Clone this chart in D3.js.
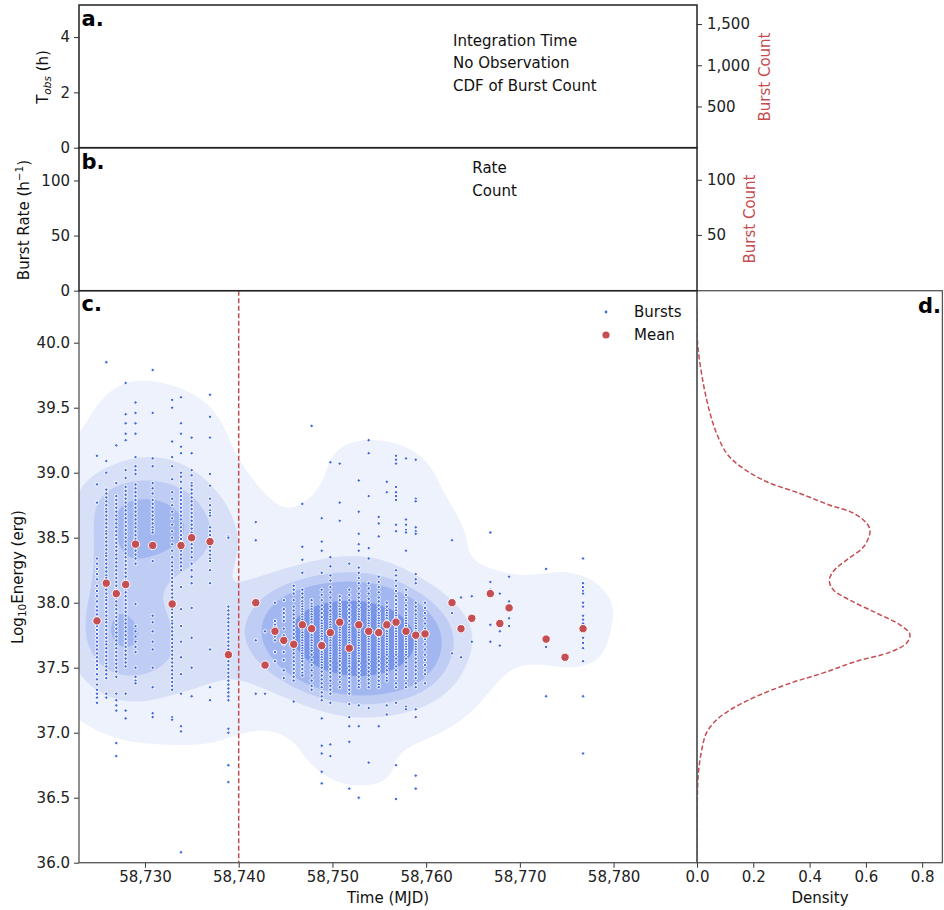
<!DOCTYPE html>
<html>
<head>
<meta charset="utf-8">
<script src="https://cdn.jsdelivr.net/npm/d3@7"></script>
<style>
  body { margin: 0; background: #fff; }
  svg text { font-family: "DejaVu Sans", sans-serif; }
</style>
</head>
<body>
<svg id="chart" width="944" height="910"></svg>
<script>
// ---- data ----
const burstDays = [58724.88, 58725.87, 58726.94, 58727.94, 58728.99, 58730.82, 58732.90, 58733.84, 58734.98, 58736.94,
  58738.90, 58741.82, 58742.81, 58743.87, 58744.81, 58745.87, 58746.79, 58747.78, 58748.86, 58749.78,
  58750.78, 58751.80, 58752.81, 58753.87, 58754.94, 58755.80, 58756.79, 58757.85, 58758.89, 58759.88,
  58762.76, 58763.72, 58764.87, 58766.85, 58767.86, 58768.85, 58772.80, 58774.82, 58776.74]

// log10 energy of each burst, one list per observing day
const burstEnergy = [
  [39.13, 38.91, 38.77, 38.34, 38.30, 38.26, 38.22, 38.18, 38.13, 38.09, 38.05, 38.01, 37.97, 37.94, 37.91, 37.88, 37.85, 37.82, 37.79, 37.76, 37.73, 37.70, 37.67, 37.64, 37.61, 37.58, 37.55, 37.52, 37.49, 37.45, 37.41, 37.37, 37.33, 37.30, 37.27, 37.23],
  [39.85, 39.09, 39.00, 38.87, 38.84, 38.81, 38.78, 38.75, 38.72, 38.70, 38.67, 38.64, 38.61, 38.58, 38.55, 38.53, 38.50, 38.47, 38.44, 38.41, 38.38, 38.36, 38.33, 38.30, 38.27, 38.24, 38.21, 38.19, 38.16, 38.13, 38.10, 38.07, 38.04, 38.02, 37.99, 37.96, 37.93, 37.90, 37.87, 37.85, 37.82, 37.79, 37.76, 37.73, 37.70, 37.68, 37.65, 37.62, 37.59, 37.56, 37.53, 37.51, 37.48, 37.45, 37.42, 37.30, 37.27],
  [39.21, 38.92, 38.82, 38.79, 38.76, 38.73, 38.70, 38.67, 38.64, 38.61, 38.58, 38.55, 38.52, 38.49, 38.46, 38.43, 38.40, 38.37, 38.34, 38.31, 38.28, 38.25, 38.22, 38.19, 38.16, 38.13, 38.10, 38.07, 38.04, 38.01, 37.98, 37.95, 37.92, 37.89, 37.86, 37.83, 37.80, 37.77, 37.74, 37.71, 37.68, 37.65, 37.62, 37.59, 37.56, 37.53, 37.50, 37.47, 37.43, 37.30, 37.25, 37.21, 37.17, 36.92, 36.82],
  [39.69, 39.45, 39.38, 39.30, 39.25, 39.02, 38.96, 38.89, 38.86, 38.83, 38.80, 38.77, 38.74, 38.71, 38.68, 38.65, 38.62, 38.59, 38.56, 38.53, 38.50, 38.47, 38.44, 38.41, 38.38, 38.35, 38.32, 38.29, 38.26, 38.23, 38.20, 38.17, 38.14, 38.11, 38.08, 38.05, 38.02, 37.99, 37.96, 37.93, 37.90, 37.87, 37.84, 37.81, 37.78, 37.75, 37.72, 37.69, 37.66, 37.63, 37.60, 37.57, 37.54, 37.51, 37.30, 37.17, 37.11],
  [39.54, 39.46, 39.38, 39.30, 39.12, 39.05, 39.02, 38.99, 38.91, 38.88, 38.85, 38.82, 38.79, 38.76, 38.73, 38.70, 38.67, 38.64, 38.61, 38.58, 38.55, 38.52, 38.49, 38.46, 38.43, 38.40, 38.37, 38.34, 38.30, 37.99, 37.82, 37.78, 37.74, 37.70, 37.66, 37.62, 37.50, 37.43, 37.40, 37.38],
  [39.79, 39.46, 39.11, 39.05, 38.92, 38.88, 38.84, 38.79, 38.76, 38.73, 38.70, 38.67, 38.64, 38.61, 38.58, 38.56, 38.54, 38.32, 37.90, 37.85, 37.78, 37.70, 37.64, 37.50, 37.35, 37.15, 37.12],
  [39.56, 39.50, 39.24, 39.12, 39.05, 38.95, 38.85, 38.80, 38.75, 38.70, 38.65, 38.60, 38.55, 38.50, 38.45, 38.40, 38.35, 38.31, 38.28, 38.25, 38.22, 38.19, 38.16, 38.13, 38.10, 38.07, 38.04, 38.01, 37.98, 37.95, 37.92, 37.89, 37.86, 37.84, 37.81, 37.78, 37.75, 37.72, 37.69, 37.66, 37.63, 37.60, 37.57, 37.54, 37.51, 37.48, 37.45, 37.42, 37.39, 37.36, 37.33, 37.12, 37.10],
  [39.58, 39.38, 39.30, 39.20, 39.15, 39.00, 38.97, 38.93, 38.88, 38.85, 38.82, 38.79, 38.76, 38.73, 38.70, 38.67, 38.64, 38.61, 38.58, 38.55, 38.52, 38.49, 38.46, 38.43, 38.40, 38.37, 38.34, 38.31, 38.28, 38.25, 38.12, 37.95, 37.82, 37.70, 37.58, 37.45, 37.30, 37.05, 37.01, 36.08],
  [39.27, 39.15, 39.02, 38.98, 38.92, 38.90, 38.87, 38.84, 38.81, 38.78, 38.75, 38.72, 38.69, 38.66, 38.63, 38.60, 38.57, 38.54, 38.51, 38.48, 38.45, 38.42, 38.39, 38.35, 38.30, 38.25, 38.20, 38.15, 37.96, 37.73, 37.50, 37.28],
  [39.60, 39.43, 39.27, 38.99, 38.90, 38.80, 38.75, 38.71, 38.69, 38.67, 38.58, 38.55, 38.52, 38.49, 38.46, 38.43, 38.40, 38.37, 38.34, 38.32, 38.25, 38.15, 37.64, 37.35, 37.25],
  [38.51, 38.50, 37.97, 37.94, 37.91, 37.88, 37.85, 37.82, 37.79, 37.76, 37.73, 37.70, 37.67, 37.64, 37.61, 37.58, 37.55, 37.52, 37.49, 37.46, 37.43, 37.40, 37.37, 37.34, 37.31, 37.28, 37.25, 37.03, 37.00, 36.75, 36.62],
  [38.62, 38.48, 37.71, 37.30],
  [37.78, 37.52, 37.30],
  [38.00, 37.86, 37.83, 37.81, 37.78, 37.74, 37.71, 37.62, 37.55],
  [38.02, 37.95, 37.92, 37.89, 37.86, 37.80, 37.75, 37.68, 37.62, 37.56, 37.48, 37.42],
  [38.13, 38.10, 38.07, 38.02, 37.97, 37.94, 37.91, 37.88, 37.85, 37.82, 37.79, 37.76, 37.73, 37.70, 37.67, 37.64, 37.61, 37.58, 37.55, 37.52, 37.49, 37.46, 37.43, 37.40, 37.24],
  [38.76, 38.43, 38.33, 38.23, 38.10, 38.07, 38.04, 38.01, 37.99, 37.97, 37.95, 37.93, 37.91, 37.89, 37.87, 37.85, 37.83, 37.81, 37.79, 37.77, 37.75, 37.73, 37.71, 37.69, 37.67, 37.65, 37.63, 37.61, 37.59, 37.57, 37.55, 37.52, 37.49, 37.46, 37.44],
  [39.36, 38.02, 37.99, 37.97, 37.95, 37.93, 37.91, 37.89, 37.87, 37.85, 37.83, 37.81, 37.79, 37.77, 37.75, 37.73, 37.71, 37.69, 37.67, 37.65, 37.63, 37.60, 37.56, 37.52, 37.48, 37.44, 37.40, 37.36, 37.33],
  [38.65, 38.47, 38.40, 38.23, 38.10, 38.06, 38.02, 37.98, 37.95, 37.92, 37.89, 37.86, 37.84, 37.82, 37.80, 37.78, 37.76, 37.74, 37.72, 37.70, 37.68, 37.66, 37.64, 37.62, 37.60, 37.58, 37.56, 37.54, 37.52, 37.50, 37.47, 37.44, 37.41, 37.38, 37.35, 37.31, 37.28, 37.25, 37.11, 36.90, 36.84, 36.70, 36.61],
  [39.08, 38.35, 38.28, 38.21, 38.17, 38.12, 38.08, 38.04, 38.00, 37.97, 37.94, 37.91, 37.89, 37.87, 37.85, 37.83, 37.81, 37.79, 37.77, 37.75, 37.73, 37.71, 37.69, 37.67, 37.65, 37.63, 37.61, 37.59, 37.57, 37.55, 37.52, 37.49, 37.46, 37.43, 37.40, 37.36, 37.33, 37.30, 37.23, 36.91, 36.82],
  [39.07, 38.77, 38.63, 38.05, 38.02, 37.99, 37.97, 37.95, 37.93, 37.91, 37.89, 37.87, 37.85, 37.83, 37.81, 37.79, 37.77, 37.75, 37.73, 37.71, 37.69, 37.67, 37.65, 37.63, 37.61, 37.59, 37.57, 37.55, 37.52, 37.49, 37.46, 37.43, 37.39, 37.35],
  [38.30, 38.10, 38.06, 38.02, 37.98, 37.95, 37.92, 37.89, 37.86, 37.83, 37.81, 37.79, 37.77, 37.75, 37.73, 37.71, 37.69, 37.67, 37.65, 37.63, 37.61, 37.59, 37.57, 37.55, 37.53, 37.51, 37.48, 37.45, 37.42, 37.39, 37.36, 37.33, 37.30, 37.22, 37.12, 37.05, 36.93, 36.57],
  [38.94, 38.70, 38.53, 38.45, 38.40, 38.27, 38.23, 38.19, 38.15, 38.11, 38.07, 38.04, 38.01, 37.98, 37.95, 37.93, 37.91, 37.89, 37.87, 37.85, 37.83, 37.81, 37.79, 37.77, 37.75, 37.73, 37.71, 37.69, 37.67, 37.65, 37.63, 37.61, 37.59, 37.57, 37.55, 37.52, 37.49, 37.46, 37.43, 37.40, 37.37, 37.35, 37.21, 37.05, 36.50],
  [39.25, 39.15, 38.82, 38.42, 38.34, 38.15, 38.11, 38.07, 38.03, 38.00, 37.97, 37.94, 37.92, 37.90, 37.88, 37.86, 37.84, 37.82, 37.80, 37.78, 37.76, 37.74, 37.72, 37.70, 37.68, 37.66, 37.64, 37.62, 37.60, 37.58, 37.56, 37.53, 37.50, 37.47, 37.44, 37.41, 37.38, 37.35, 37.19, 36.77],
  [38.66, 38.61, 38.51, 38.20, 38.16, 38.12, 38.08, 38.04, 38.01, 37.98, 37.95, 37.92, 37.90, 37.88, 37.86, 37.84, 37.82, 37.80, 37.78, 37.76, 37.74, 37.72, 37.70, 37.68, 37.66, 37.64, 37.62, 37.60, 37.58, 37.55, 37.52, 37.49, 37.46, 37.43, 37.40, 37.37, 37.35, 37.05],
  [38.93, 38.85, 38.00, 37.97, 37.94, 37.92, 37.90, 37.88, 37.86, 37.84, 37.82, 37.80, 37.78, 37.76, 37.74, 37.72, 37.70, 37.68, 37.66, 37.64, 37.62, 37.60, 37.57, 37.54, 37.51, 37.48, 37.45, 37.42, 37.40, 37.21, 37.14],
  [39.13, 39.10, 39.07, 38.89, 38.85, 38.82, 38.79, 38.60, 38.55, 38.25, 38.21, 38.17, 38.13, 38.09, 38.05, 38.02, 37.99, 37.96, 37.94, 37.92, 37.90, 37.88, 37.86, 37.84, 37.82, 37.80, 37.78, 37.76, 37.74, 37.72, 37.70, 37.68, 37.66, 37.64, 37.62, 37.60, 37.57, 37.54, 37.51, 37.48, 37.45, 37.42, 37.38, 37.35, 37.23, 36.75, 36.49],
  [39.11, 38.64, 38.60, 38.56, 38.54, 38.40, 38.10, 38.06, 38.02, 37.98, 37.95, 37.92, 37.90, 37.88, 37.86, 37.84, 37.82, 37.80, 37.78, 37.76, 37.74, 37.72, 37.70, 37.68, 37.66, 37.64, 37.62, 37.60, 37.57, 37.54, 37.51, 37.48, 37.45, 37.42, 37.38, 37.35, 37.20, 37.18],
  [39.10, 38.80, 38.78, 38.58, 38.55, 38.53, 38.22, 38.18, 38.15, 38.00, 37.97, 37.94, 37.91, 37.88, 37.86, 37.84, 37.82, 37.80, 37.78, 37.76, 37.74, 37.72, 37.70, 37.68, 37.66, 37.64, 37.62, 37.60, 37.57, 37.54, 37.51, 37.48, 37.45, 37.42, 37.38, 37.35, 37.18, 37.12, 36.67, 36.57],
  [38.00, 37.96, 37.92, 37.88, 37.84, 37.80, 37.76, 37.72, 37.68, 37.64, 37.60, 37.56, 37.52, 37.48, 37.45, 37.38],
  [38.48, 37.92, 37.61],
  [38.04, 37.77, 37.58],
  [38.05, 37.88, 37.70],
  [38.54, 38.16, 38.10, 37.83, 37.70],
  [38.07, 37.78, 37.67],
  [38.20, 38.01, 37.88, 37.82],
  [38.26, 37.66, 37.28],
  [37.60, 37.56],
  [38.34, 38.15, 38.12, 38.09, 38.07, 38.00, 37.97, 37.90, 37.87, 37.84, 37.73, 37.69, 37.65, 37.55, 37.28, 36.84]
]

// daily mean energy (red markers)
const meanEnergy = [37.86, 38.15, 38.07, 38.14, 38.45, 38.44, 37.99, 38.44, 38.50, 38.47, 37.60, 38.00, 37.52, 37.78, 37.71,
  37.68, 37.83, 37.80, 37.67, 37.77, 37.85, 37.65, 37.83, 37.78, 37.77, 37.83, 37.85, 37.78, 37.75, 37.76,
  38.00, 37.80, 37.88, 38.07, 37.84, 37.96, 37.72, 37.58, 37.80]

// marginal density of energy (panel d)
const densEnergy = [36.0, 36.48, 36.69, 36.87, 37.0, 37.10, 37.19, 37.28, 37.38, 37.46, 37.55, 37.62, 37.69, 37.76, 37.83,
  37.92, 38.02, 38.10, 38.17, 38.24, 38.33, 38.43, 38.55, 38.61, 38.69, 38.75, 38.84, 38.93, 39.05, 39.15,
  39.30, 39.46, 39.69, 40.0, 40.27]
const densValue = [0.0, 0.001, 0.005, 0.017, 0.034, 0.070, 0.129, 0.212, 0.330, 0.449, 0.567, 0.686, 0.745, 0.756, 0.721,
  0.638, 0.543, 0.484, 0.470, 0.484, 0.532, 0.592, 0.615, 0.603, 0.555, 0.472, 0.366, 0.248, 0.153, 0.105,
  0.070, 0.046, 0.022, 0.002, 0.0]

const burstOnset = 58740
const kdeQuantiles = [0.05, 0.24, 0.43, 0.62, 0.81]
const kdeColors = ['#eef2fc', '#d8e0f8', '#bfcdf4', '#a2b6ef', '#7895e8']
const legendA = ['Integration Time', 'No Observation', 'CDF of Burst Count']
const legendB = ['Rate', 'Count']

// ---- layout ----
const svg = d3.select('#chart')
const L = 79, R = 697, RD = 943
const TA = 5, TB = 147.7, TC = 290.7, BC = 862.7
const red = '#c44e52', blue = '#4169e1'

const xC = d3.scaleLinear().domain([58722.96, 58788.9]).range([L, R])
const yC = d3.scaleLinear().domain([36, 40.4]).range([BC, TC])
const yA = d3.scaleLinear().domain([0, 5.16]).range([TB, TA])
const yAR = d3.scaleLinear().domain([0, 1731]).range([TB, TA])
const yB = d3.scaleLinear().domain([0, 129.7]).range([TC, TB])
const yBR = d3.scaleLinear().domain([0, 129.1]).range([290, TB])
const xD = d3.scaleLinear().domain([0, 0.874]).range([R, RD])

function styleAxis(g){
    g.attr('font-family', 'DejaVu Sans').attr('font-size', 15)
    g.select('.domain').remove()
    g.selectAll('.tick line').attr('stroke', '#333').attr('stroke-width', 1)
    g.selectAll('.tick text').attr('fill', '#222')
}

// clip paths
const defs = svg.append('defs')
defs.append('clipPath').attr('id', 'clipC').append('rect')
    .attr('x', L).attr('y', TC).attr('width', R - L).attr('height', BC - TC)
defs.append('clipPath').attr('id', 'clipD').append('rect')
    .attr('x', R).attr('y', TC).attr('width', RD - R).attr('height', BC - TC)

// ---- panel c: KDE contours from the bursts ----
let pts = []
burstDays.forEach((d, i) => burstEnergy[i].forEach(e => pts.push([d, e])))
const n = pts.length
const mx = d3.mean(pts, p => p[0]), my = d3.mean(pts, p => p[1])
let sxx = 0, syy = 0, sxy = 0
pts.forEach(p => { let dx = p[0] - mx, dy = p[1] - my; sxx += dx*dx; syy += dy*dy; sxy += dx*dy })
sxx /= n - 1; syy /= n - 1; sxy /= n - 1
const bwAdjust = 1.0
const fac2 = Math.pow(Math.pow(n, -1/6) * bwAdjust, 2)
const ca = sxx*fac2, cb = sxy*fac2, cc = syy*fac2, det = ca*cc - cb*cb
const ia = cc/det, ib = -cb/det, ic = ca/det

const nx = 180, ny = 140, gx0 = 58712, gx1 = 58800, gy0 = 35.6, gy1 = 41.0
const dxg = (gx1 - gx0)/(nx - 1), dyg = (gy1 - gy0)/(ny - 1)
const grid = new Float64Array(nx*ny)
for (let j = 0; j < ny; j++){
    let y = gy0 + j*dyg
    for (let i = 0; i < nx; i++){
        let x = gx0 + i*dxg, s = 0
        for (let k = 0; k < n; k++){
            let dx = x - pts[k][0], dy = y - pts[k][1]
            let q = ia*dx*dx + 2*ib*dx*dy + ic*dy*dy
            if (q < 40) s += Math.exp(-0.5*q)
        }
        grid[j*nx + i] = s
    }
}
// iso-proportion levels
const sorted = Array.from(grid).sort((a, b) => b - a)
const total = d3.sum(sorted)
let cum = 0
const cums = sorted.map(v => (cum += v)/total)
const thresholds = kdeQuantiles.map(q => sorted[Math.min(d3.bisectLeft(cums, 1 - q), sorted.length - 1)])

const contours = d3.contours().size([nx, ny]).thresholds(thresholds)(grid)
const proj = d3.geoTransform({point: function(x, y){
    this.stream.point(xC(gx0 + (x - 0.5)*dxg), yC(gy0 + (y - 0.5)*dyg))
}})
svg.append('g').attr('clip-path', 'url(#clipC)')
    .selectAll('path')
    .data(contours)
    .enter()
    .append('path')
    .attr('d', d3.geoPath(proj))
    .attr('fill', (d, i) => kdeColors[i])
    .attr('stroke', 'none')

// onset line
svg.append('line')
    .attr('x1', xC(burstOnset)).attr('x2', xC(burstOnset))
    .attr('y1', TC).attr('y2', BC)
    .attr('stroke', red).attr('stroke-width', 1.5).attr('stroke-dasharray', '5,2.5')

// bursts
svg.append('g').attr('clip-path', 'url(#clipC)')
    .selectAll('circle')
    .data(pts)
    .enter()
    .append('circle')
    .attr('cx', d => xC(d[0])).attr('cy', d => yC(d[1]))
    .attr('r', 1.7)
    .attr('fill', blue).attr('stroke', '#fff').attr('stroke-width', 1.0)

// means
svg.append('g')
    .selectAll('circle')
    .data(meanEnergy)
    .enter()
    .append('circle')
    .attr('cx', (d, i) => xC(burstDays[i])).attr('cy', d => yC(d))
    .attr('r', 4.2)
    .attr('fill', red).attr('stroke', '#fff').attr('stroke-width', 1)

// legend c
svg.append('circle').attr('cx', 606).attr('cy', 312).attr('r', 1.4).attr('fill', blue)
svg.append('circle').attr('cx', 606).attr('cy', 335).attr('r', 3.6).attr('fill', red)
svg.append('text').attr('x', 634).attr('y', 317).attr('font-size', 15).attr('fill', '#111').text('Bursts')
svg.append('text').attr('x', 634).attr('y', 340).attr('font-size', 15).attr('fill', '#111').text('Mean')

// axes c
let gy = svg.append('g').attr('transform', `translate(${L},0)`)
    .call(d3.axisLeft(yC).tickValues(d3.range(36, 40.01, 0.5)).tickFormat(d3.format('.1f')).tickSize(5).tickPadding(4))
styleAxis(gy)
let gx = svg.append('g').attr('transform', `translate(0,${BC})`)
    .call(d3.axisBottom(xC).tickValues(d3.range(58730, 58781, 10)).tickFormat(d3.format(',')).tickSize(5).tickPadding(4))
styleAxis(gx)

// ---- panel d: density ----
let densData = densEnergy.map((e, i) => [e, densValue[i]])
let densLine = d3.line().x(d => xD(d[1])).y(d => yC(d[0])).curve(d3.curveCatmullRom)
svg.append('path').attr('clip-path', 'url(#clipD)')
    .attr('d', densLine(densData))
    .attr('fill', 'none').attr('stroke', red).attr('stroke-width', 1.5).attr('stroke-dasharray', '5,2.5')
let gd = svg.append('g').attr('transform', `translate(0,${BC})`)
    .call(d3.axisBottom(xD).tickValues([0, 0.2, 0.4, 0.6, 0.8]).tickFormat(d3.format('.1f')).tickSize(5).tickPadding(4))
styleAxis(gd)

// spines c, d
svg.append('rect').attr('x', L).attr('y', TC).attr('width', R - L).attr('height', BC - TC)
    .attr('fill', 'none').attr('stroke', '#555').attr('stroke-width', 1.3)
svg.append('rect').attr('x', R).attr('y', TC).attr('width', RD - R - 0.6).attr('height', BC - TC)
    .attr('fill', 'none').attr('stroke', '#555').attr('stroke-width', 1.3)

// ---- panels a, b (empty frames with axes) ----
let ga = svg.append('g').attr('transform', `translate(${L},0)`)
    .call(d3.axisLeft(yA).tickValues([0, 2, 4]).tickFormat(d3.format('d')).tickSize(5).tickPadding(4))
styleAxis(ga)
let gaR = svg.append('g').attr('transform', `translate(${R},0)`)
    .call(d3.axisRight(yAR).tickValues([500, 1000, 1500]).tickFormat(d3.format(',')).tickSize(5).tickPadding(5))
styleAxis(gaR)
let gb = svg.append('g').attr('transform', `translate(${L},0)`)
    .call(d3.axisLeft(yB).tickValues([0, 50, 100]).tickFormat(d3.format('d')).tickSize(5).tickPadding(4))
styleAxis(gb)
let gbR = svg.append('g').attr('transform', `translate(${R},0)`)
    .call(d3.axisRight(yBR).tickValues([50, 100]).tickFormat(d3.format('d')).tickSize(5).tickPadding(5))
styleAxis(gbR)

svg.append('rect').attr('x', L).attr('y', TA).attr('width', R - L).attr('height', TB - TA)
    .attr('fill', 'none').attr('stroke', '#222').attr('stroke-width', 1.5)
svg.append('rect').attr('x', L).attr('y', TB).attr('width', R - L).attr('height', TC - TB)
    .attr('fill', 'none').attr('stroke', '#222').attr('stroke-width', 1.5)

legendA.forEach((t, i) => svg.append('text').attr('x', 453).attr('y', 45.7 + i*22.6)
    .attr('font-size', 15).attr('fill', '#111').text(t))
legendB.forEach((t, i) => svg.append('text').attr('x', 472.3).attr('y', 173.3 + i*22.6)
    .attr('font-size', 15).attr('fill', '#111').text(t))

// ---- labels ----
function vLabel(x, y, color){
    return svg.append('text').attr('transform', `translate(${x},${y}) rotate(-90)`)
        .attr('text-anchor', 'middle').attr('font-size', 15).attr('fill', color)
}
let la = vLabel(48, 77, '#111')
la.append('tspan').text('T')
la.append('tspan').attr('font-size', 10.5).attr('font-style', 'italic').attr('dy', 3).text('obs')
la.append('tspan').attr('dy', -3).text(' (h)')
let lb = vLabel(28.5, 220, '#111')
lb.append('tspan').text('Burst Rate (h')
lb.append('tspan').attr('font-size', 10.5).attr('dy', -6).text('\u22121')
lb.append('tspan').attr('dy', 6).text(')')
let lc = vLabel(22.5, 577, '#111')
lc.append('tspan').text('Log')
lc.append('tspan').attr('font-size', 10.5).attr('dy', 3).text('10')
lc.append('tspan').attr('dy', -3).text('Energy (erg)')
vLabel(769.5, 77, red).text('Burst Count')
vLabel(754.5, 219, red).text('Burst Count')

svg.append('text').attr('x', (L + R)/2).attr('y', 903).attr('text-anchor', 'middle')
    .attr('font-size', 15).attr('fill', '#111').text('Time (MJD)')
svg.append('text').attr('x', (R + RD)/2).attr('y', 903).attr('text-anchor', 'middle')
    .attr('font-size', 15).attr('fill', '#111').text('Density')

// panel letters
const panelLetters = [['a.', 81.5, 26, 'start'], ['b.', 81.5, 168.5, 'start'], ['c.', 81.5, 311, 'start'], ['d.', 941, 313, 'end']]
panelLetters.forEach(p => svg.append('text').attr('x', p[1]).attr('y', p[2]).attr('text-anchor', p[3])
    .attr('font-size', 21).attr('font-weight', 'bold').attr('fill', '#000').text(p[0]))
</script>
</body>
</html>
